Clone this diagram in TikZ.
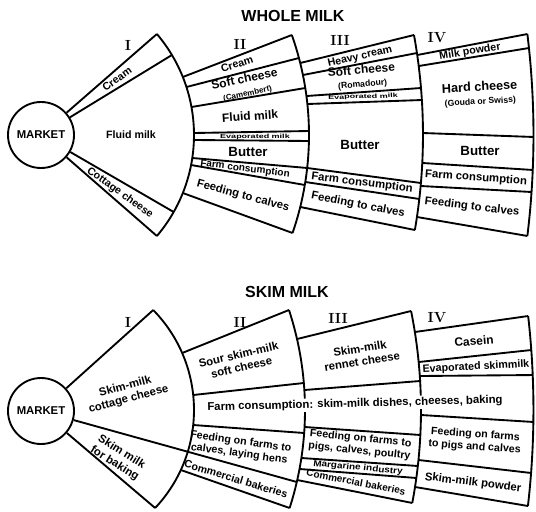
\documentclass[tikz,border=0pt]{standalone}
\usepackage{fontspec}
\setsansfont{Liberation Sans}
\usetikzlibrary{calc}

\tikzset{every picture/.style={line width=1.4pt}}
\tikzset{
  lbl/.style={font=\sffamily\bfseries\fontsize{8.5}{9.8}\selectfont, align=center, inner sep=0pt},
  lbleight/.style={lbl, font=\sffamily\bfseries\fontsize{8}{9.3}\selectfont},
  lblnine/.style={lbl, font=\sffamily\bfseries\fontsize{9}{10}\selectfont},
  biglbl/.style={lbl, font=\sffamily\bfseries\fontsize{10}{11}\selectfont},
  smalllbl/.style={lbl, font=\sffamily\bfseries\fontsize{6.5}{7}\selectfont, xscale=1.15},
  tinylbl/.style={lbl, font=\sffamily\bfseries\fontsize{4.5}{5}\selectfont, xscale=1.5},
  numeral/.style={font=\rmfamily\bfseries\fontsize{11}{11}\selectfont, inner sep=0pt},
  heading/.style={font=\sffamily\bfseries\fontsize{12}{12}\selectfont, inner sep=0pt},
  market/.style={circle, draw, minimum size=49.5pt, inner sep=0pt, font=\sffamily\bfseries\fontsize{8.5}{8.5}\selectfont}
}

\begin{document}
\begin{tikzpicture}[x=0.75pt,y=0.75pt,yscale=-1,xscale=1]
\useasboundingbox (0,0) rectangle (536,511);

%%%%%%%%%%%%%%%% WHOLE MILK
\begin{scope}[shift={(0,135)}]
\def\cA{38}\def\rA{156}
\def\cB{9}\def\rB{300}
\def\cC{-137}\def\rC{560}
\def\cD{-302.5}\def\rD{836}

% Text Node
\node[heading] (wTitle) at (293,-119) {WHOLE MILK};
%Shape: Circle
\node[market] (wMarket) at (41,0) {MARKET};

%Straight Lines: column I
\draw (wMarket) -- ($(\cA,0)+({asin(-101/\rA)}:\rA)$);
\draw (wMarket) -- ($(\cA,0)+({asin(-80/\rA)}:\rA)$);
\draw (wMarket) -- ($(\cA,0)+({asin(77/\rA)}:\rA)$);
\draw (wMarket) -- ($(\cA,0)+({asin(101/\rA)}:\rA)$);

%Curve Lines: column edges
\draw ($(\cA,0)+({asin(-101/\rA)}:\rA)$) arc[start angle={asin(-101/\rA)}, end angle={asin(101/\rA)}, radius=\rA];
\draw ($(\cB,0)+({asin(-100/\rB)}:\rB)$) arc[start angle={asin(-100/\rB)}, end angle={asin(98/\rB)}, radius=\rB];
\draw ($(\cC,0)+({asin(-100/\rC)}:\rC)$) arc[start angle={asin(-100/\rC)}, end angle={asin(95/\rC)}, radius=\rC];
\draw ($(\cD,0)+({asin(-101/\rD)}:\rD)$) arc[start angle={asin(-101/\rD)}, end angle={asin(101/\rD)}, radius=\rD];

%Straight Lines: column II
\foreach \ya/\yb in {-58/-100,-48/-77,-28/-47,-2/-4,5/6,23/33,30/50,58/98}
  \draw ($(\cA,0)+({asin(\ya/\rA)}:\rA)$) -- ($(\cB,0)+({asin(\yb/\rB)}:\rB)$);
%Straight Lines: column III
\foreach \ya/\yb in {-72/-100,-60/-82,-39/-47,-31/-35,33/48,47/64,72/95}
  \draw ($(\cB,0)+({asin(\ya/\rB)}:\rB)$) -- ($(\cC,0)+({asin(\yb/\rC)}:\rC)$);
%Straight Lines: column IV
\foreach \ya/\yb in {-80/-101,-69/-87,-2/2,28/35,51/57,82/101}
  \draw ($(\cC,0)+({asin(\ya/\rC)}:\rC)$) -- ($(\cD,0)+({asin(\yb/\rD)}:\rD)$);

% Text Node
\node[numeral] (wI) at (128,-90) {I};
\node[numeral] (wII) at (240,-91) {II};
\node[numeral] (wIII) at (340,-95) {III};
\node[numeral] (wIV) at (437,-97) {IV};
% Text Node
\node[lbleight, rotate=35] (wCreamI) at (117,-56) {Cream};
\node[lbleight] (wFluidI) at (131,0) {Fluid milk};
\node[lbleight, rotate=-36] (wCottage) at (120,58) {Cottage cheese};
% Text Node
\node[lbleight, rotate=18] (wCreamII) at (237,-71) {Cream};
\node[lblnine, rotate=12] (wSoftII) at (246,-49) {Soft cheese\\{\fontsize{6}{6}\selectfont(Camembert)}};
\node[lblnine, rotate=4] (wFluidII) at (250,-19) {Fluid milk};
\node[tinylbl] (wEvapII) at (255,1.5) {Evaporated milk};
\node[biglbl] (wButterII) at (248,17) {Butter};
\node[lbl, rotate=-7, font=\sffamily\bfseries\fontsize{7.5}{7.5}\selectfont] (wFarmII) at (245,34) {Farm consumption};
\node[lbl, rotate=-15] (wFeedII) at (243,61) {Feeding to calves};
% Text Node
\node[lbleight, rotate=13] (wHeavy) at (360,-78) {Heavy cream};
\node[lblnine, rotate=5] (wSoftIII) at (362,-58) {Soft cheese\\{\fontsize{6.5}{6.5}\selectfont(Romadour)}};
\node[tinylbl, rotate=2] (wEvapIII) at (363,-38) {Evaporated milk};
\node[biglbl] (wButterIII) at (360,10) {Butter};
\node[lbl, rotate=-7] (wFarmIII) at (362,48) {Farm consumption};
\node[lbl, rotate=-11] (wFeedIII) at (358,70) {Feeding to calves};
% Text Node
\node[lbleight, rotate=9] (wPowder) at (470,-83) {Milk powder};
\node[lbl, rotate=3, font=\sffamily\bfseries\fontsize{9.5}{10}\selectfont] (wHard) at (480,-41) {Hard cheese\\{\fontsize{6.5}{6.5}\selectfont(Gouda or Swiss)}};
\node[biglbl] (wButterIV) at (480,16) {Butter};
\node[lbl, rotate=-4] (wFarmIV) at (476,43) {Farm consumption};
\node[lbl, rotate=-7] (wFeedIV) at (472,72) {Feeding to calves};
\end{scope}

%%%%%%%%%%%%%%%% SKIM MILK
\begin{scope}[shift={(0,410)}]
\def\cA{51}\def\rA{143}
\def\cB{-15}\def\rB{320}
\def\cC{-79}\def\rC{500}
\def\cD{-302.5}\def\rD{836}

% Text Node
\node[heading] (sTitle) at (287,-118) {SKIM MILK};
%Shape: Circle
\node[market] (sMarket) at (41,1) {MARKET};

%Straight Lines: column I
\draw (sMarket) -- ($(\cA,0)+({asin(-100/\rA)}:\rA)$);
\draw (sMarket) -- ($(\cA,0)+({asin(98/\rA)}:\rA)$);
\draw (sMarket) -- ($(\cB,0)+({asin(72/\rB)}:\rB)$);

%Curve Lines: column edges
\draw ($(\cA,0)+({asin(-100/\rA)}:\rA)$) arc[start angle={asin(-100/\rA)}, end angle={asin(98/\rA)}, radius=\rA];
\draw ($(\cB,0)+({asin(-100/\rB)}:\rB)$) arc[start angle={asin(-100/\rB)}, end angle={asin(98/\rB)}, radius=\rB];
\draw ($(\cC,0)+({asin(-99/\rC)}:\rC)$) arc[start angle={asin(-99/\rC)}, end angle={asin(93/\rC)}, radius=\rC];
\draw ($(\cD,0)+({asin(-94/\rD)}:\rD)$) arc[start angle={asin(-94/\rD)}, end angle={asin(96/\rD)}, radius=\rD];

%Straight Lines: column II
\foreach \ya/\yb in {-57/-100,-15/-27,15/23,60/98}
  \draw ($(\cA,0)+({asin(\ya/\rA)}:\rA)$) -- ($(\cB,0)+({asin(\yb/\rB)}:\rB)$);
%Straight Lines: column III
\foreach \ya/\yb in {-71/-99,-20/-29,17/25,48/56,59/68,70/93}
  \draw ($(\cB,0)+({asin(\ya/\rB)}:\rB)$) -- ($(\cC,0)+({asin(\yb/\rC)}:\rC)$);
%Straight Lines: column IV
\foreach \ya/\yb in {-78/-94,-48/-60,-34/-35,5/12,50/63,77/96}
  \draw ($(\cC,0)+({asin(\ya/\rC)}:\rC)$) -- ($(\cD,0)+({asin(\yb/\rD)}:\rD)$);

% Text Node
\node[numeral] (sI) at (128,-88) {I};
\node[numeral] (sII) at (240,-88) {II};
\node[numeral] (sIII) at (338,-92) {III};
\node[numeral] (sIV) at (437,-92) {IV};
% Text Node
\node[lbl, rotate=15] (sCottage) at (127,-17) {Skim-milk\\cottage cheese};
\node[lbl, rotate=-32] (sBaking) at (118,48) {Skim milk\\for baking};
% Text Node
\node[lbl, rotate=13] (sSour) at (240,-49) {Sour skim-milk\\soft cheese};
\node[lbl, rotate=1.5, fill=white, inner sep=1pt] (sFarm) at (355,-6) {Farm consumption: skim-milk dishes, cheeses, baking};
\node[lbleight, rotate=-8] (sFeedII) at (240,38) {Feeding on farms to\\calves, laying hens};
\node[lbleight, rotate=-17] (sBakII) at (236,69) {Commercial bakeries};
% Text Node
\node[lbl, rotate=9] (sRennet) at (361,-55) {Skim-milk\\rennet cheese};
\node[lbleight, rotate=-6] (sFeedIII) at (360,35) {Feeding on farms to\\pigs, calves, poultry};
\node[smalllbl, rotate=-6] (sMarg) at (358,58) {Margarine industry};
\node[lbl, rotate=-11, font=\sffamily\bfseries\fontsize{7.5}{7.5}\selectfont] (sBakIII) at (356,72) {Commercial bakeries};
% Text Node
\node[lblnine, rotate=5] (sCasein) at (474,-69) {Casein};
\node[lbleight, rotate=3] (sEvap) at (476,-43) {Evaporated skimmilk};
\node[lbleight, rotate=-4] (sFeedIV) at (475,31) {Feeding on farms\\to pigs and calves};
\node[lbl, rotate=-7] (sPowder) at (473,73) {Skim-milk powder};
\end{scope}

\end{tikzpicture}
\end{document}
